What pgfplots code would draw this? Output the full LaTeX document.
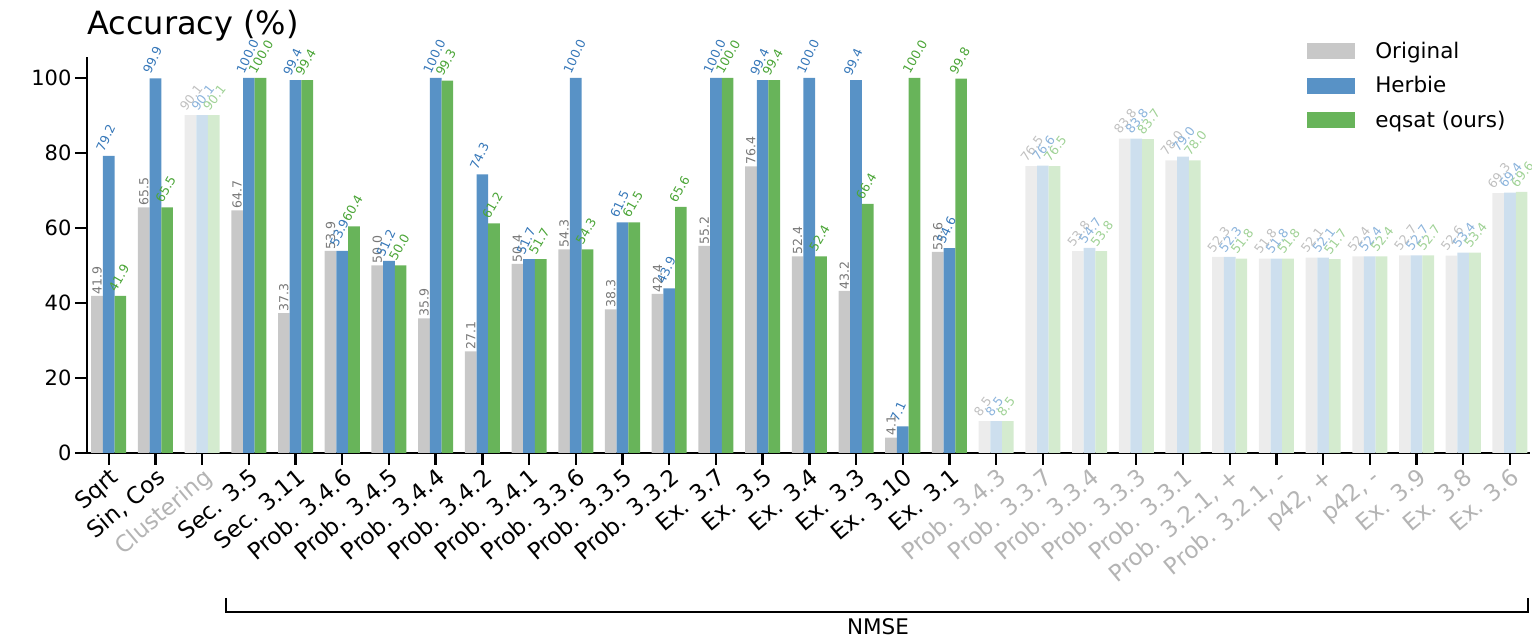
\documentclass[border=0pt]{standalone}
\usepackage{fontspec}
\setmainfont{DejaVu Sans}
\usepackage{pgfplots}
\pgfplotsset{compat=1.18}

\definecolor{corig}{RGB}{200,200,200}
\definecolor{cherb}{RGB}{88,146,198}
\definecolor{ceq}{RGB}{104,180,90}
\definecolor{forig}{RGB}{236,236,236}
\definecolor{fherb}{RGB}{205,223,238}
\definecolor{feq}{RGB}{212,235,207}
\definecolor{lorig}{RGB}{120,120,120}
\definecolor{lherb}{RGB}{55,120,185}
\definecolor{leq}{RGB}{75,165,55}
\definecolor{lforig}{RGB}{192,192,192}
\definecolor{lfherb}{RGB}{140,180,220}
\definecolor{lfeq}{RGB}{160,210,150}
\definecolor{fadetext}{RGB}{180,180,180}

\newcommand{\fl}[1]{\textcolor{fadetext}{#1}}

\pgfplotsset{
  vlab/.style={nodes near coords={\pgfmathprintnumber[fixed,fixed zerofill,precision=1]{\pgfplotspointmeta}},
    point meta=y},
  barA/.style={ybar, bar width=0.25, bar shift=-0.25, draw=none, forget plot},
  barB/.style={ybar, bar width=0.25, bar shift=0, draw=none, forget plot},
  barC/.style={ybar, bar width=0.25, bar shift=0.25, draw=none, forget plot},
}

\begin{document}
\begin{tikzpicture}
\useasboundingbox (-87pt,-186pt) rectangle (1445pt,453pt);
\begin{axis}[
  at={(0pt,0pt)}, anchor=south west, scale only axis,
  width=1443pt, height=396pt,
  xmin=-0.465, xmax=30.43, ymin=0, ymax=105.6,
  axis x line*=bottom, axis y line*=left,
  axis line style={line width=2.4pt},
  every tick/.style={black, line width=2.4pt},
  major tick length=12pt, tick align=outside,
  xtick={0,...,30}, ytick={0,20,...,100},
  xticklabels={{Sqrt},{Sin, Cos},{\fl{Clustering}},{Sec. 3.5},{Sec. 3.11},{Prob. 3.4.6},{Prob. 3.4.5},{Prob. 3.4.4},{Prob. 3.4.2},{Prob. 3.4.1},{Prob. 3.3.6},{Prob. 3.3.5},{Prob. 3.3.2},{Ex. 3.7},{Ex. 3.5},{Ex. 3.4},{Ex. 3.3},{Ex. 3.10},{Ex. 3.1},{\fl{Prob. 3.4.3}},{\fl{Prob. 3.3.7}},{\fl{Prob. 3.3.4}},{\fl{Prob. 3.3.3}},{\fl{Prob. 3.3.1}},{\fl{Prob. 3.2.1, +}},{\fl{Prob. 3.2.1, -}},{\fl{p42, +}},{\fl{p42, -}},{\fl{Ex. 3.9}},{\fl{Ex. 3.8}},{\fl{Ex. 3.6}}},
  xticklabel style={rotate=40, anchor=north east, font=\fontsize{23}{27}\selectfont, inner sep=1pt},
  yticklabel style={font=\fontsize{21}{25}\selectfont},
  /pgf/number format/assume math mode=true,
  clip=false,
  legend style={at={(0.8455,1.0354)}, anchor=north west, draw=none, fill=none, inner sep=0pt,
    font=\fontsize{21.5}{25}\selectfont, row sep=14.5pt,
    nodes={inner sep=0pt, text height=15pt, text depth=5pt},
    /tikz/every odd column/.append style={column sep=20pt}},
  legend cell align=left,
  legend image code/.code={\fill[#1] (0pt,-6pt) rectangle (48pt,10pt);},
]
% legend images
\addlegendimage{fill=corig, draw=none}
\addlegendentry{Original}
\addlegendimage{fill=cherb, draw=none}
\addlegendentry{Herbie}
\addlegendimage{fill=ceq, draw=none}
\addlegendentry{eqsat (ours)}

% main categories
\addplot[barA, fill=corig, vlab, nodes near coords style={xshift=-11.7pt, rotate=90, anchor=west, text=lorig, font=\fontsize{12.5}{14}\selectfont, inner sep=1.5pt}]
 coordinates {(0,41.9)(1,65.5)(3,64.7)(4,37.3)(5,53.9)(6,50.0)(7,35.9)(8,27.1)(9,50.4)(10,54.3)(11,38.3)(12,42.4)(13,55.2)(14,76.4)(15,52.4)(16,43.2)(17,4.1)(18,53.6)};
\addplot[barB, fill=cherb, vlab, nodes near coords style={xshift=-4pt, yshift=2pt, rotate=65, anchor=south west, text=lherb, font=\fontsize{12.5}{14}\selectfont, inner sep=1pt}]
 coordinates {(0,79.2)(1,99.9)(3,100.0)(4,99.4)(5,53.9)(6,51.2)(7,100.0)(8,74.3)(9,51.7)(10,100.0)(11,61.5)(12,43.9)(13,100.0)(14,99.4)(15,100.0)(16,99.4)(17,7.1)(18,54.6)};
\addplot[barC, fill=ceq, vlab, nodes near coords style={xshift=7.7pt, yshift=2pt, rotate=60, anchor=south west, text=leq, font=\fontsize{12.5}{14}\selectfont, inner sep=1pt}]
 coordinates {(0,41.9)(1,65.5)(3,100.0)(4,99.4)(5,60.4)(6,50.0)(7,99.3)(8,61.2)(9,51.7)(10,54.3)(11,61.5)(12,65.6)(13,100.0)(14,99.4)(15,52.4)(16,66.4)(17,100.0)(18,99.8)};

% faded categories
\addplot[barA, fill=forig, vlab, nodes near coords style={xshift=-15.7pt, yshift=2pt, rotate=52, anchor=south west, text=lforig, font=\fontsize{12.5}{14}\selectfont, inner sep=1pt}]
 coordinates {(2,90.1)(19,8.5)(20,76.5)(21,53.8)(22,83.8)(23,78.0)(24,52.3)(25,51.8)(26,52.1)(27,52.4)(28,52.7)(29,52.6)(30,69.3)};
\addplot[barB, fill=fherb, vlab, nodes near coords style={xshift=-4pt, yshift=2pt, rotate=52, anchor=south west, text=lfherb, font=\fontsize{12.5}{14}\selectfont, inner sep=1pt}]
 coordinates {(2,90.1)(19,8.5)(20,76.6)(21,54.7)(22,83.8)(23,79.0)(24,52.3)(25,51.8)(26,52.1)(27,52.4)(28,52.7)(29,53.4)(30,69.4)};
\addplot[barC, fill=feq, vlab, nodes near coords style={xshift=7.7pt, yshift=2pt, rotate=52, anchor=south west, text=lfeq, font=\fontsize{12.5}{14}\selectfont, inner sep=1pt}]
 coordinates {(2,90.1)(19,8.5)(20,76.5)(21,53.8)(22,83.7)(23,78.0)(24,51.8)(25,51.8)(26,51.7)(27,52.4)(28,52.7)(29,53.4)(30,69.6)};

\node[anchor=base west, font=\fontsize{32}{38}\selectfont, inner sep=0pt] at (rel axis cs:0,1.058) {Accuracy (\%)};
\end{axis}
\draw[line width=2.4pt] (139pt,-145pt) -- (139pt,-159pt) -- (1441pt,-159pt) -- (1441pt,-145pt);
\node[anchor=base, font=\fontsize{21.5}{25}\selectfont, inner sep=0pt] at (791pt,-182pt) {NMSE};
\end{tikzpicture}
\end{document}
